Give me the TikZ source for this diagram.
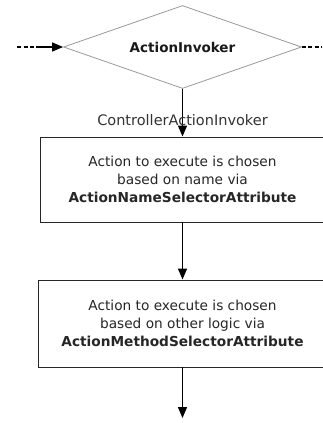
\documentclass[tikz,border=0pt]{standalone}
\usepackage{fontspec}
\setmainfont{DejaVu Sans}
\usetikzlibrary{shapes.geometric,arrows.meta}
\begin{document}
\begin{tikzpicture}[x=1pt,y=1pt,
  arr/.style={line width=1.4pt,draw=black,-{Triangle[length=11pt,width=9pt]}},
  stepbox/.style={draw=black!85,line width=0.9pt,rectangle,inner sep=0pt,
    align=center,text=black!85,font=\fontsize{13.7}{18}\selectfont},
  decision/.style={draw=black!40,line width=0.8pt,diamond,aspect=2.85,inner sep=0pt,
    font=\fontsize{13.5}{16}\selectfont\bfseries,text=black!90},
  lbl/.style={font=\fontsize{14.5}{16}\selectfont,text=black!80,inner sep=0pt},
  feed/.style={line width=1.1pt,draw=black,dash pattern=on 4pt off 2.5pt}]
\useasboundingbox (0,0) rectangle (322,-423);
\fill[white] (0,0) rectangle (322,-423);

% decision and process steps
\node[decision,minimum width=238pt,minimum height=83pt] (inv) at (182.5,-47) {ActionInvoker};
\node[stepbox,minimum width=284pt,minimum height=85pt] (byname) at (182.5,-179.5)
  {Action to execute is chosen\\based on name via\\\textbf{ActionNameSelectorAttribute}};
\node[stepbox,minimum width=288pt,minimum height=87pt] (bylogic) at (182.5,-323.5)
  {Action to execute is chosen\\based on other logic via\\\textbf{ActionMethodSelectorAttribute}};

% incoming and outgoing flow
\coordinate (infar) at (17,-47);
\coordinate (innear) at (36,-47);
\coordinate (outfar) at (322,-47);
\coordinate (exit) at (182.5,-418);
\draw[feed] (infar) -- (innear);
\draw[arr] (innear) -- (inv.west);
\draw[feed] (inv.east) -- (outfar);

% vertical flow
\draw[arr] (inv.south) -- (byname.north);
\node[lbl] (ctrl) at (182.5,-120) {ControllerActionInvoker};
\draw[arr] (byname.south) -- (bylogic.north);
\draw[arr] (bylogic.south) -- (exit);
\end{tikzpicture}
\end{document}
